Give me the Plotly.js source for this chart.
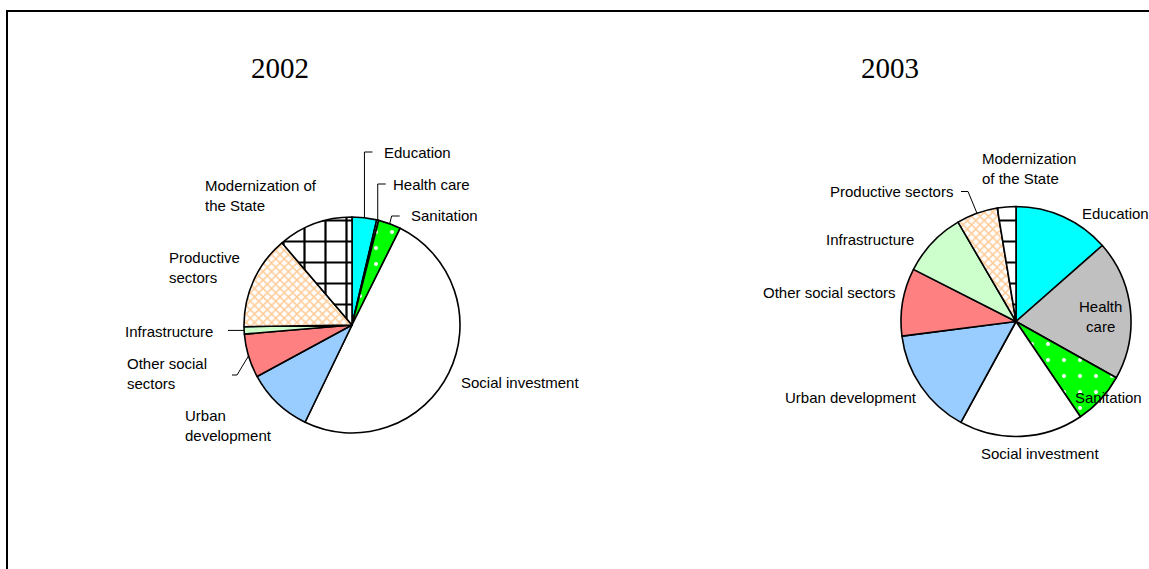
<!DOCTYPE html>
<html>
<head>
<meta charset="utf-8">
<script src="https://cdn.plot.ly/plotly-3.0.1.min.js"></script>
<style>html,body{margin:0;padding:0;background:#fff;}#chart{width:1149px;height:569px;}</style>
</head>
<body>
<div id="chart"></div>
<script>
// ---- data ----
const categories = ["Education", "Health care", "Sanitation", "Social investment", "Urban development",
  "Other social sectors", "Infrastructure", "Productive sectors", "Modernization of the State"];
const values2002 = [3.7, 0.3, 3.4, 50.1, 10.0, 6.6, 1.1, 14.1, 11.3];
const values2003 = [13.5, 19.6, 7.4, 17.4, 15.0, 9.5, 9.1, 5.8, 2.6];
const titles = ["2002", "2003"];

// ---- styles ----
const W = 1149, H = 569;
const colors2002 = ["#00FFFF", "#C0C0C0", "#00FF00", "#FFFFFF", "#99CCFF", "#FF8080", "#CCFFCC", "#FFFFFF", "#FFFFFF"];
const colors2003 = colors2002.slice();
const patShapes = ["", "", ".", "", "", "", "", "x", "+"];
const patFg = ["#000", "#000", "#FFFFFF", "#000", "#000", "#000", "#000", "#FFCC99", "#000000"];
const patBg = ["#00FFFF", "#C0C0C0", "#00FF00", "#FFFFFF", "#99CCFF", "#FF8080", "#CCFFCC", "#FFFFFF", "#FFFFFF"];
const patSize = [8, 8, 16, 8, 8, 8, 8, 6, 21];
const patSolid = [0.3, 0.3, 0.05, 0.3, 0.3, 0.3, 0.3, 0.45, 0.2];

// pie placement (pixels)
const pies = [
  {cx: 352, cy: 325, r: 108},
  {cx: 1016, cy: 321.5, r: 115}
];
function domainOf(p) {
  return {x: [(p.cx - p.r) / W, (p.cx + p.r) / W], y: [1 - (p.cy + p.r) / H, 1 - (p.cy - p.r) / H]};
}
function edgePoint(vals, idx, p) {
  const tot = vals.reduce((a, b) => a + b, 0);
  let cum = 0;
  for (let i = 0; i < idx; i++) cum += vals[i];
  const ang = (cum + vals[idx] / 2) / tot * 2 * Math.PI;
  return [p.cx + p.r * Math.sin(ang), p.cy - p.r * Math.cos(ang)];
}
const px = x => x / W, py = y => 1 - y / H;

function pieTrace(vals, cols, p) {
  return {
    type: "pie", values: vals, labels: categories, sort: false, direction: "clockwise", rotation: 0,
    textinfo: "none", hoverinfo: "skip", showlegend: false, domain: domainOf(p),
    marker: {colors: cols, line: {color: "#000", width: 1.6},
      pattern: {shape: patShapes, fgcolor: patFg, bgcolor: patBg, size: patSize, solidity: patSolid, fillmode: "replace"}}
  };
}

const font = {family: "Liberation Sans, Arial, sans-serif", size: 15, color: "#000"};
function lab(text, x, y, xanchor, align) {
  const xa = xanchor || "left";
  const dx = xa === "left" ? -2 : (xa === "right" ? 2 : 0);
  return {text: text, x: px(x + dx), y: py(y), xref: "paper", yref: "paper", xanchor: xa,
    yanchor: "middle", align: align || "left", showarrow: false, font: font};
}
const titleFont = {family: "Liberation Serif, Times New Roman, serif", size: 29, color: "#000"};
const annotations = [
  {text: titles[0], x: px(280), y: py(68), xref: "paper", yref: "paper", xanchor: "center", yanchor: "middle",
    showarrow: false, font: titleFont},
  {text: titles[1], x: px(890), y: py(68), xref: "paper", yref: "paper", xanchor: "center", yanchor: "middle",
    showarrow: false, font: titleFont},
  // 2002
  lab(categories[0], 384, 152),
  lab(categories[1], 393, 184),
  lab(categories[2], 410.5, 216),
  lab("Social investment", 461, 382),
  lab("Urban<br>development", 185, 425),
  lab("Other social<br>sectors", 127, 373),
  lab("Infrastructure", 213, 331.5, "right"),
  lab("Productive<br>sectors", 169, 267),
  lab("Modernization of<br>the State", 205, 195),
  // 2003
  lab("Education", 1082, 214),
  lab("Health<br>care", 1100, 316, "center", "center"),
  lab("Sanitation", 1075, 397),
  lab("Social investment", 981, 453),
  lab("Urban development", 917, 398, "right"),
  lab("Other social sectors", 896, 293, "right"),
  lab("Infrastructure", 914, 239.5, "right"),
  lab("Productive sectors", 953, 191, "right"),
  lab("Modernization<br>of the State", 982, 169)
];

// leader lines computed from slice mid-angles
function path(pts) {
  return {type: "path", xref: "paper", yref: "paper",
    path: pts.map((q, i) => (i ? "L" : "M") + px(q[0]) + "," + py(q[1])).join(" "),
    line: {color: "#000", width: 1}};
}
const e0 = edgePoint(values2002, 0, pies[0]);
const e1 = edgePoint(values2002, 1, pies[0]);
const e2 = edgePoint(values2002, 2, pies[0]);
const e5 = edgePoint(values2002, 5, pies[0]);
const e6 = edgePoint(values2002, 6, pies[0]);
const f7 = edgePoint(values2003, 7, pies[1]);
const shapes = [
  {type: "rect", xref: "paper", yref: "paper", x0: px(7), x1: px(1180), y0: py(11), y1: py(600),
    line: {color: "#000", width: 2}, fillcolor: "rgba(0,0,0,0)"},
  path([e0, [e0[0], 152], [e0[0] + 8, 152]]),
  path([e1, [e1[0], 184], [e1[0] + 8, 184]]),
  path([e2, [e2[0] + 2, 216], [e2[0] + 10, 216]]),
  path([e5, [237, 375], [232, 375]]),
  path([e6, [228, e6[1]]]),
  path([f7, [968, 191.5], [961, 191.5]])
];

Plotly.newPlot("chart", [pieTrace(values2002, colors2002, pies[0]), pieTrace(values2003, colors2003, pies[1])], {
  width: W, height: H, margin: {l: 0, r: 0, t: 0, b: 0}, paper_bgcolor: "#fff",
  annotations: annotations, shapes: shapes
}, {displayModeBar: false, staticPlot: true});
</script>
</body>
</html>
